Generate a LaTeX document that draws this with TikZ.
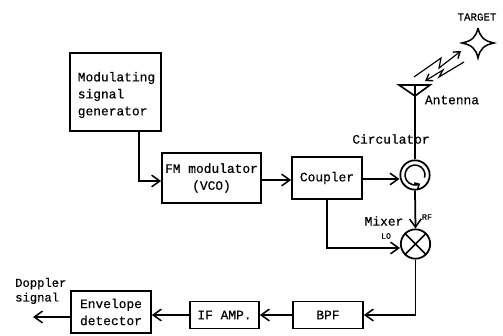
\documentclass[tikz,border=0pt]{standalone}
\usepackage{fontspec}
\setmainfont[FakeBold=0.4]{Liberation Mono}
\usetikzlibrary{arrows.meta}
\tikzset{
  block/.style={rectangle, draw, line width=1.5pt, align=center, inner sep=0pt, font=\fontsize{11}{14.5}\selectfont},
  lab/.style={inner sep=0pt, align=left, font=\fontsize{11}{12.5}\selectfont},
  tiny/.style={inner sep=0pt, font=\fontsize{7}{8}\selectfont},
  ring/.style={circle, draw, line width=1.5pt, minimum size=0.88cm, inner sep=0pt},
  link/.style={line width=1.5pt, ->},
  bolt/.style={line width=1pt, ->},
}
\begin{document}
\begin{tikzpicture}[x=0.03cm, y=-0.03cm, >={Straight Barb[length=7pt,width=10pt,line width=1.3pt]}]
\useasboundingbox (0,0) rectangle (503,335);

\node(A) at (115.5,92)[block, minimum width=2.73cm, minimum height=2.34cm]{};
\node(Atext) at (116.5,95)[lab, font=\fontsize{11}{14.5}\selectfont]{Modulating\\signal\\generator};
\node(B) at (211.5,178)[block, minimum width=2.97cm, minimum height=1.5cm]{FM modulator\\(VCO)};
\node(C) at (327,178)[block, minimum width=2.1cm, minimum height=1.26cm]{Coupler};
\node(D) at (415,175)[ring]{};
\node(E) at (415.5,244)[ring]{};
\node(F) at (328,315)[block, minimum width=2.1cm, minimum height=0.81cm]{BPF};
\node(G) at (224.5,315)[block, minimum width=2.07cm, minimum height=0.81cm]{IF AMP.};
\node(H) at (111,312)[block, minimum width=2.4cm, minimum height=1.26cm]{Envelope\\detector};

\coordinate(a1) at (139,181);
\coordinate(c1) at (327,248);
\coordinate(e1) at (415.5,315);
\coordinate(out) at (33,317);
\coordinate(ant) at (415,85);
\coordinate(antl) at (399,85);
\coordinate(antr) at (430,85);
\coordinate(antb) at (415,96);

\draw[link](A.south -| a1)--(a1)--(B.west |- a1);
\draw[link](B.east |- 0,180)--(C.west |- 0,180);
\draw[link](C.east |- 0,179)--(D.west |- 0,179);
\draw[link](C.south -| c1)--(c1)--(E.west |- c1);
\draw[link](D.south)--(E.north);
\draw[link](E.south)--(e1)--(F.east);
\draw[link](F.west)--(G.east);
\draw[link](G.west)--(H.east |- G.west);
\draw[line width=1.1pt, ->](H.west |- out)--(out);

% circulator and mixer
\draw[line width=1.3pt, -{Straight Barb[length=3pt,width=6pt]}]([shift={(-15:0.3cm)}]D.center) arc[start angle=-15, end angle=300, radius=0.3cm];
\draw[line width=1.3pt](E.45)--(E.225);
\draw[line width=1.3pt](E.135)--(E.315);

% antenna
\draw[line width=1.4pt](antl)--(antr)--(antb)--cycle;
\draw[line width=1.5pt](ant)--(D.north);

% target
\coordinate(Tn) at (478,28);
\coordinate(Te) at (494,43);
\coordinate(Ts) at (478,58);
\coordinate(Tw) at (462,43);
\draw[line width=1.3pt](Tn) .. controls (480,37) and (484,41) .. (Te)
  .. controls (484,45) and (480,49) .. (Ts)
  .. controls (476,49) and (472,45) .. (Tw)
  .. controls (472,41) and (476,37) .. (Tn);

% radio waves
\coordinate(u1) at (414,77);
\coordinate(u2) at (441,58);
\coordinate(u3) at (439,68);
\coordinate(u4) at (461,51);
\coordinate(d1) at (464,62);
\coordinate(d2) at (439,77);
\coordinate(d3) at (443,70);
\coordinate(d4) at (425,81);
\draw[bolt, -{Straight Barb[length=5pt,width=7pt,line width=1.2pt]}](u1)--(u2)--(u3)--(u4);
\draw[bolt, -{Straight Barb[length=5pt,width=7pt,line width=1.2pt]}](d1)--(d2)--(d3)--(d4);

\node(t1) at (477,17)[tiny, font=\fontsize{9.2}{11}\selectfont]{TARGET};
\node(t2) at (452,100)[lab]{Antenna};
\node(t3) at (391,139)[lab]{Circulator};
\node(t4) at (384,221)[lab]{Mixer};
\node(t5) at (427,217)[tiny]{RF};
\node(t6) at (386,236)[tiny]{LO};
\node(t7) at (15,291)[lab, anchor=west, font=\fontsize{10.4}{12.5}\selectfont]{Doppler\\signal};
\end{tikzpicture}
\end{document}
